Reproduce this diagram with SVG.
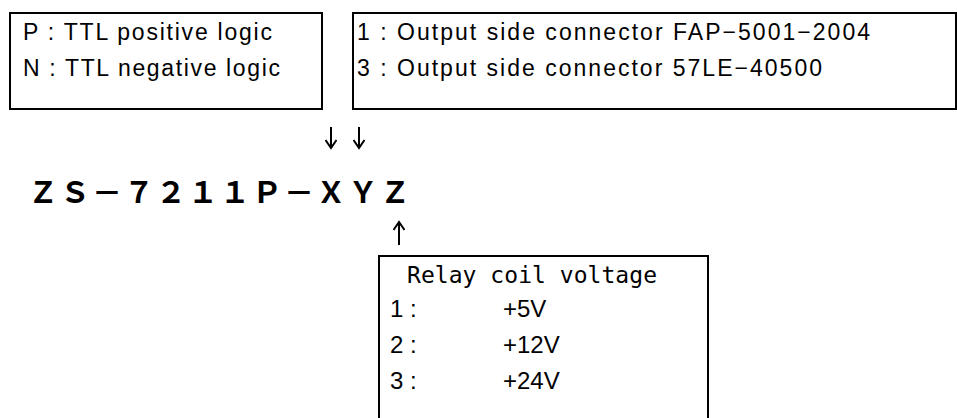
<svg xmlns="http://www.w3.org/2000/svg" width="957" height="418" viewBox="0 0 957 418">
  <style>
    .box { fill: none; stroke: #000; stroke-width: 2; }
    .lbl { font-family: "Liberation Sans", Arial, sans-serif; font-size: 23px; fill: #000; }
    .mono { font-family: "DejaVu Sans Mono", "Liberation Mono", monospace; font-size: 23px; fill: #000; }
    .val { font-family: "Liberation Sans", Arial, sans-serif; font-size: 24px; fill: #000; }
    .title { font-family: "Noto Sans CJK JP", "Liberation Sans", sans-serif; font-size: 30px; font-weight: bold; letter-spacing: 2px; fill: #000; }
    .arrow { fill: none; stroke: #000; stroke-width: 2; }
  </style>
  <defs>
    <marker id="head" markerWidth="14" markerHeight="12" refX="10" refY="6" orient="auto" markerUnits="userSpaceOnUse">
      <path d="M2,0.5 L10,6 L2,11.5" fill="none" stroke="#000" stroke-width="2"/>
    </marker>
  </defs>
  <rect width="957" height="418" fill="#fff"/>

  <g id="node-logic">
    <rect class="box" x="10" y="13" width="312" height="96"/>
    <text class="lbl" x="23" y="40" textLength="249" lengthAdjust="spacing">P : TTL positive logic</text>
    <text class="lbl" x="23" y="76" textLength="257" lengthAdjust="spacing">N : TTL negative logic</text>
  </g>

  <g id="node-connector">
    <rect class="box" x="353" y="13" width="603" height="96"/>
    <text class="lbl" x="357" y="40" textLength="513" lengthAdjust="spacing">1 : Output side connector FAP−5001−2004</text>
    <text class="lbl" x="357" y="76" textLength="465" lengthAdjust="spacing">3 : Output side connector 57LE−40500</text>
  </g>

  <g id="node-partnumber">
    <text class="title" x="28" y="203">ＺＳ－７２１１Ｐ－ＸＹＺ</text>
  </g>

  <g id="node-voltage">
    <rect class="box" x="379" y="256" width="329" height="200"/>
    <text class="mono" x="407" y="283" textLength="250" lengthAdjust="spacing">Relay coil voltage</text>
    <text class="val" x="390" y="317">1 :</text>
    <text class="val" x="503" y="317">+5V</text>
    <text class="val" x="390" y="353">2 :</text>
    <text class="val" x="503" y="353">+12V</text>
    <text class="val" x="390" y="389">3 :</text>
    <text class="val" x="503" y="389">+24V</text>
  </g>

  <g id="connectors">
    <line class="arrow" x1="331" y1="127" x2="331" y2="148" marker-end="url(#head)"/>
    <line class="arrow" x1="359" y1="127" x2="359" y2="148" marker-end="url(#head)"/>
    <line class="arrow" x1="399" y1="245" x2="399" y2="222" marker-end="url(#head)"/>
  </g>
</svg>
